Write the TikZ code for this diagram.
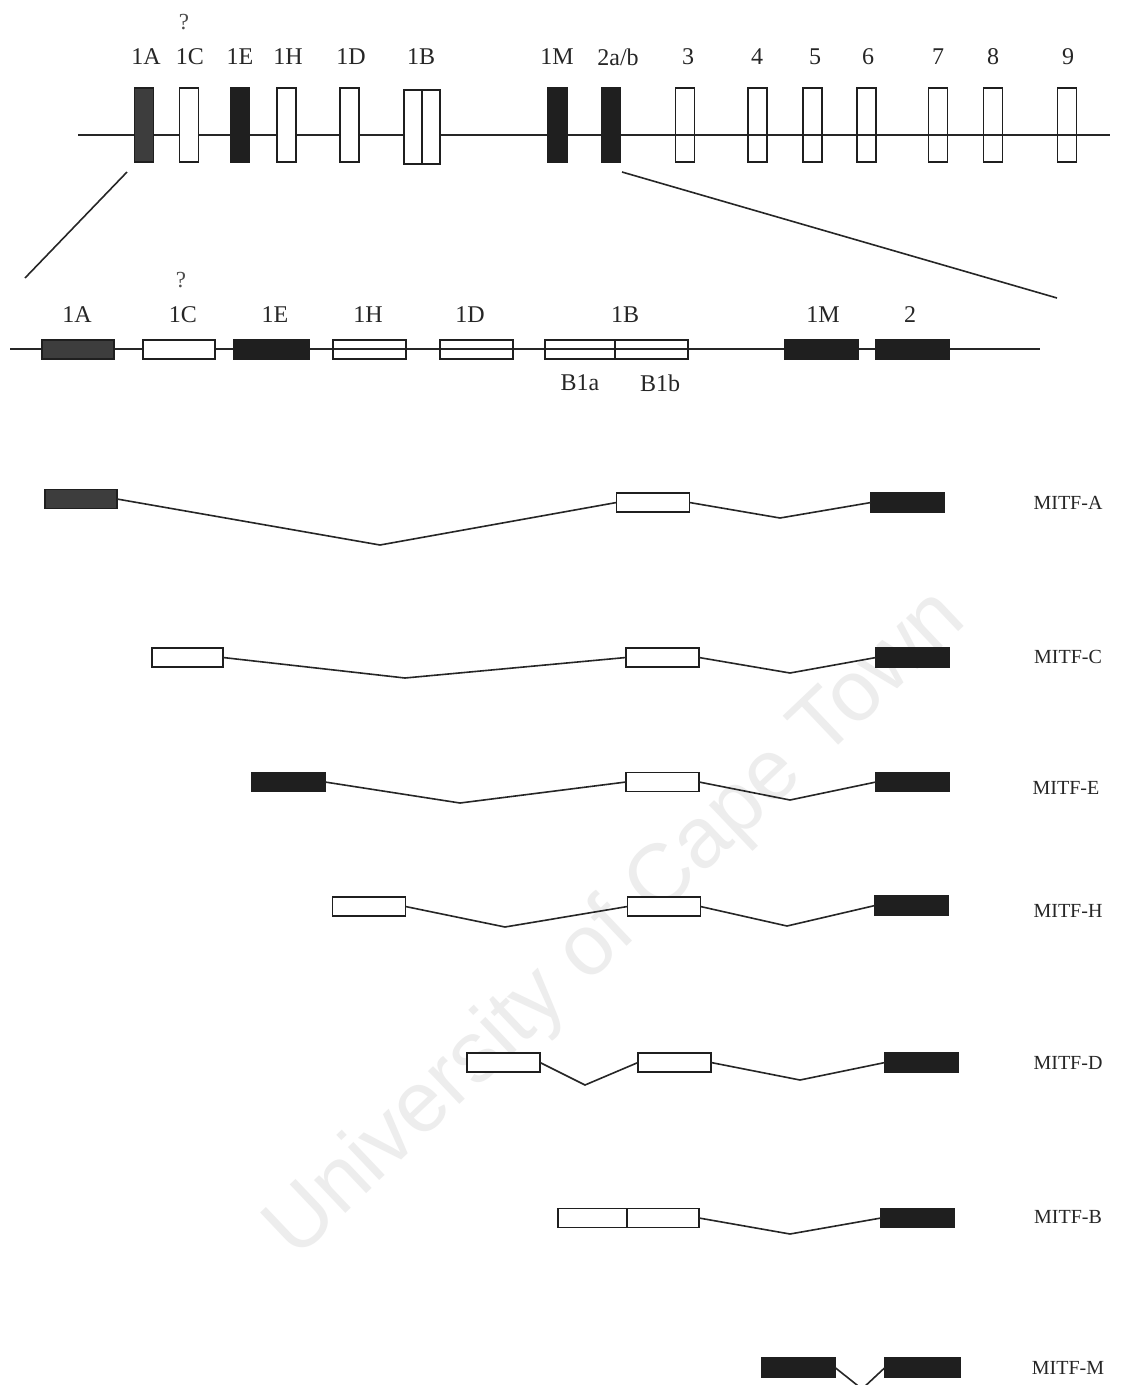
\documentclass[tikz,border=0pt]{standalone}
\usepackage{fontspec}
\setmainfont{Liberation Serif}
\newfontfamily\wmfont{Liberation Sans}
\begin{document}
\begin{tikzpicture}[x=1pt,y=-1pt,
  base/.style={draw=black!88, line width=1.5pt, inner sep=0pt, outer sep=0pt},
  vbox/.style={base, minimum width=19pt, minimum height=74pt},
  hbox/.style={base, minimum width=73pt, minimum height=19pt},
  open/.style={fill=white},
  nofill/.style={fill=none},
  solid/.style={fill=black!88},
  greyx/.style={fill=black!76},
  lab/.style={font=\fontsize{24}{24}\selectfont, inner sep=0pt, text=black!85},
  qlab/.style={font=\fontsize{23}{23}\selectfont, inner sep=0pt, text=black!70},
  mlab/.style={font=\fontsize{20}{20}\selectfont, inner sep=0pt, text=black!85},
  wire/.style={line width=1.6pt, draw=black!85}]
\useasboundingbox (0,0) rectangle (1138,1385);
\fill[white] (0,0) rectangle (1138,1385);
% watermark
\node[font=\wmfont\fontsize{86}{86}\selectfont, text=black!7, rotate=43.5] (wm) at (617,925) {University of Cape Town};

% ---------------- top gene map ----------------
\coordinate (tl0) at (78,135);
\coordinate (tl1) at (1110,135);
\draw[wire] (tl0) -- (tl1);
\node[vbox, greyx] (t1A) at (144,125) {};
\node[vbox, open]  (t1C) at (189,125) {};
\node[vbox, solid] (t1E) at (240,125) {};
\node[vbox, open]  (t1H) at (286.5,125) {};
\node[vbox, open]  (t1D) at (349.5,125) {};
\node[vbox, open, minimum width=18pt] (t1Ba) at (413,127) {};
\node[vbox, open, minimum width=18pt] (t1Bb) at (431,127) {};
\node[vbox, solid] (t1M) at (557.5,125) {};
\node[vbox, solid] (t2) at (611,125) {};
\node[vbox, nofill] (t3) at (685,125) {};
\node[vbox, nofill] (t4) at (757.5,125) {};
\node[vbox, nofill] (t5) at (812.5,125) {};
\node[vbox, nofill] (t6) at (866.5,125) {};
\node[vbox, nofill] (t7) at (938,125) {};
\node[vbox, nofill] (t8) at (993,125) {};
\node[vbox, nofill] (t9) at (1067,125) {};

\node[qlab] (tq) at (184,22) {?};
\node[lab] (lt1A) at (146,57) {1A};
\node[lab] (lt1C) at (190,57) {1C};
\node[lab] (lt1E) at (240,57) {1E};
\node[lab] (lt1H) at (288,57) {1H};
\node[lab] (lt1D) at (351,57) {1D};
\node[lab] (lt1B) at (421,57) {1B};
\node[lab] (lt1M) at (557,57) {1M};
\node[lab] (lt2) at (618,57) {2a/b};
\node[lab] (lt3) at (688,57) {3};
\node[lab] (lt4) at (757,57) {4};
\node[lab] (lt5) at (815,57) {5};
\node[lab] (lt6) at (868,57) {6};
\node[lab] (lt7) at (938,57) {7};
\node[lab] (lt8) at (993,57) {8};
\node[lab] (lt9) at (1068,57) {9};

% zoom lines
\coordinate (zA0) at (127,172);
\coordinate (zA1) at (25,278);
\coordinate (zB0) at (622,172);
\coordinate (zB1) at (1057,298);
\draw[wire] (zA0) -- (zA1);
\draw[wire] (zB0) -- (zB1);

% ---------------- expanded region ----------------
\coordinate (sl0) at (10,349);
\coordinate (sl1) at (1040,349);
\draw[wire] (sl0) -- (sl1);
\node[hbox, greyx, minimum width=72pt] (s1A) at (78,349.5) {};
\node[hbox, open, minimum width=72pt]  (s1C) at (179,349.5) {};
\node[hbox, solid, minimum width=75pt] (s1E) at (271.5,349.5) {};
\node[hbox, nofill] (s1H) at (369.5,349.5) {};
\node[hbox, nofill] (s1D) at (476.5,349.5) {};
\node[hbox, nofill, minimum width=70pt] (s1Ba) at (580,349.5) {};
\node[hbox, nofill, minimum width=73pt] (s1Bb) at (651.5,349.5) {};
\node[hbox, solid] (s1M) at (821.5,349.5) {};
\node[hbox, solid] (s2) at (912.5,349.5) {};

\node[qlab] (sq) at (181,280) {?};
\node[lab] (ls1A) at (77,315) {1A};
\node[lab] (ls1C) at (183,315) {1C};
\node[lab] (ls1E) at (275,315) {1E};
\node[lab] (ls1H) at (368,315) {1H};
\node[lab] (ls1D) at (470,315) {1D};
\node[lab] (ls1B) at (625,315) {1B};
\node[lab] (ls1M) at (823,315) {1M};
\node[lab] (ls2) at (910,315) {2};
\node[lab] (lsB1a) at (580,383) {B1a};
\node[lab] (lsB1b) at (660,383) {B1b};

% ---------------- isoforms ----------------
% MITF-A
\node[hbox, greyx, minimum width=72pt] (a1) at (81,499) {};
\node[hbox, open] (a2) at (653,502.5) {};
\node[hbox, solid] (a3) at (907.5,502.5) {};
\coordinate (av1) at (380,545);
\coordinate (av2) at (780,518);
\draw[wire] (a1.east) -- (av1) -- (a2.west);
\draw[wire] (a2.east) -- (av2) -- (a3.west);
\node[mlab] (la) at (1068,503) {MITF-A};

% MITF-C
\node[hbox, open, minimum width=71pt] (c1) at (187.5,657.5) {};
\node[hbox, open] (c2) at (662.5,657.5) {};
\node[hbox, solid] (c3) at (912.5,657.5) {};
\coordinate (cv1) at (405,678);
\coordinate (cv2) at (790,673);
\draw[wire] (c1.east) -- (cv1) -- (c2.west);
\draw[wire] (c2.east) -- (cv2) -- (c3.west);
\node[mlab] (lc) at (1068,657) {MITF-C};

% MITF-E
\node[hbox, solid] (e1) at (288.5,782) {};
\node[hbox, open] (e2) at (662.5,782) {};
\node[hbox, solid] (e3) at (912.5,782) {};
\coordinate (ev1) at (460,803);
\coordinate (ev2) at (790,800);
\draw[wire] (e1.east) -- (ev1) -- (e2.west);
\draw[wire] (e2.east) -- (ev2) -- (e3.west);
\node[mlab] (le) at (1066,788) {MITF-E};

% MITF-H
\node[hbox, open] (h1) at (369,906.5) {};
\node[hbox, open] (h2) at (664,906.5) {};
\node[hbox, solid] (h3) at (911.5,905.5) {};
\coordinate (hv1) at (505,927);
\coordinate (hv2) at (787,926);
\draw[wire] (h1.east) -- (hv1) -- (h2.west);
\draw[wire] (h2.east) -- (hv2) -- (h3.west);
\node[mlab] (lh) at (1068,911) {MITF-H};

% MITF-D
\node[hbox, open] (d1) at (503.5,1062.5) {};
\node[hbox, open] (d2) at (674.5,1062.5) {};
\node[hbox, solid] (d3) at (921.5,1062.5) {};
\coordinate (dv1) at (585,1085);
\coordinate (dv2) at (800,1080);
\draw[wire] (d1.east) -- (dv1) -- (d2.west);
\draw[wire] (d2.east) -- (dv2) -- (d3.west);
\node[mlab] (ld) at (1068,1063) {MITF-D};

% MITF-B
\node[hbox, open, minimum width=69pt] (b1) at (592.5,1218) {};
\node[hbox, open, minimum width=72pt] (b2) at (663,1218) {};
\node[hbox, solid] (b3) at (917.5,1218) {};
\coordinate (bv) at (790,1234);
\draw[wire] (b2.east) -- (bv) -- (b3.west);
\node[mlab] (lb) at (1068,1217) {MITF-B};

% MITF-M
\node[hbox, solid] (m1) at (798.5,1367.5) {};
\node[hbox, solid, minimum width=75pt] (m2) at (922.5,1367.5) {};
\coordinate (mv) at (862,1389);
\draw[wire] (m1.east) -- (mv) -- (m2.west);
\node[mlab] (lm) at (1068,1368) {MITF-M};
\end{tikzpicture}
\end{document}
